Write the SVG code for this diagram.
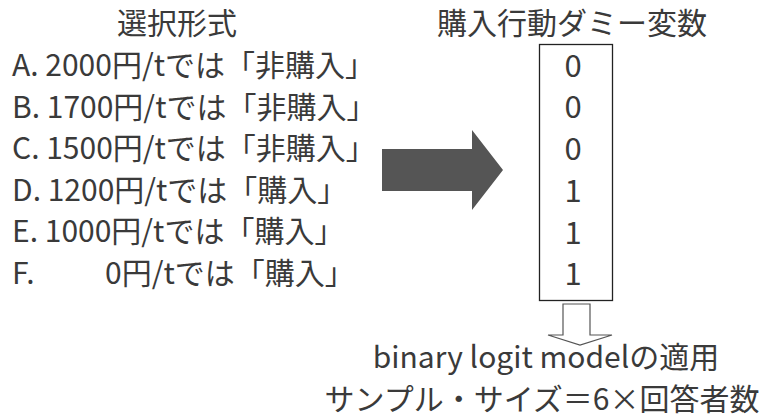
<svg xmlns="http://www.w3.org/2000/svg" width="769" height="419" viewBox="0 0 769 419">
<style>
text{font-family:"Noto Sans CJK JP","Noto Sans",sans-serif;fill:#3a3a3a;}
.t{font-size:30px;}
.b{font-size:30px;}
.d{font-size:31px;text-anchor:middle;}
.m{text-anchor:middle;}
</style>
<rect width="769" height="419" fill="#ffffff"/>
<g id="title-left"><text class="t m" x="177" y="34">選択形式</text></g>
<g id="title-right"><text class="t m" x="572" y="34">購入行動ダミー変数</text></g>
<g id="choices">
<text class="b" x="12" y="76">A. 2000円/tでは「非購入」</text>
<text class="b" x="12" y="117.5">B. 1700円/tでは「非購入」</text>
<text class="b" x="12" y="159">C. 1500円/tでは「非購入」</text>
<text class="b" x="12" y="200.5">D. 1200円/tでは「購入」</text>
<text class="b" x="12" y="242">E. 1000円/tでは「購入」</text>
<text class="b" x="12" y="283.5">F.<tspan x="105">0円/tでは「購入」</tspan></text>
</g>
<g id="dummy-box">
<rect x="539.5" y="44.5" width="73" height="256" fill="none" stroke="#222" stroke-width="1.3"/>
<text class="d" x="573" y="77">0</text>
<text class="d" x="573" y="118">0</text>
<text class="d" x="573" y="160">0</text>
<text class="d" x="573" y="202">1</text>
<text class="d" x="573" y="244">1</text>
<text class="d" x="573" y="285">1</text>
</g>
<g id="connectors">
<polygon id="big-arrow" points="382,149 472,149 472,130 503,170 472,210 472,191 382,191" fill="#555555"/>
<polygon id="down-arrow" points="563,304 590,304 590,335 612,335 580,345 548,335 563,335" fill="#ffffff" stroke="#555555" stroke-width="1.2"/>
</g>
<g id="result">
<text class="b m" x="546" y="368">binary logit modelの適用</text>
<text class="b m" x="542" y="410">サンプル・サイズ＝6×回答者数</text>
</g>
</svg>
